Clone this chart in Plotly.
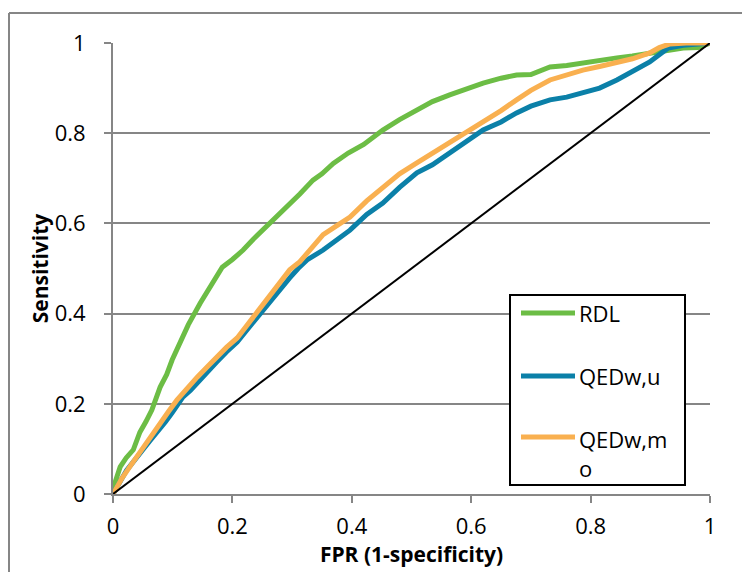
import plotly.graph_objects as go

# ---- data ----
rdl_fpr = [0, .003, .012, .022, .034, .045, .055, .065, .079, .09, .099, .113, .126, .146, .165, .183, .2, .218,
           .235, .251, .27, .291, .313, .335, .35, .369, .394, .42, .452, .48, .509, .535, .564, .59, .62, .65,
           .676, .7, .732, .76, .787, .815, .844, .87, .899, .93, .955, .98, 1]
rdl_sens = [0, .024, .06, .08, .098, .137, .16, .186, .237, .265, .297, .34, .375, .423, .465, .503, .52, .541,
            .565, .585, .61, .636, .665, .696, .71, .733, .756, .775, .807, .83, .851, .87, .885, .898, .911, .922,
            .929, .93, .947, .95, .956, .96, .967, .971, .978, .984, .989, .99, 1]

qu_fpr = [0, .005, .013, .023, .035, .05, .062, .075, .088, .099, .117, .13, .142, .158, .174, .19, .208, .222,
          .235, .25, .263, .28, .296, .31, .325, .352, .375, .397, .425, .452, .48, .509, .535, .564, .59, .62,
          .65, .676, .7, .732, .76, .787, .815, .844, .87, .899, .93, .955, .98, 1]
qu_sens = [0, .01, .03, .053, .075, .098, .118, .137, .16, .18, .215, .23, .248, .27, .293, .315, .337, .36,
           .381, .405, .43, .455, .479, .5, .519, .541, .565, .585, .62, .645, .68, .712, .73, .756, .78, .807,
           .825, .845, .86, .874, .88, .889, .9, .918, .936, .958, .989, .995, .998, 1]

qm_fpr = [0, .005, .015, .028, .04, .05, .065, .079, .093, .107, .124, .141, .158, .174, .19, .208, .222, .235,
          .25, .263, .28, .296, .313, .33, .352, .375, .397, .425, .452, .48, .509, .535, .564, .59, .62, .65,
          .676, .7, .732, .76, .787, .815, .844, .87, .899, .915, .933, .96, 1]
qm_sens = [0, .012, .035, .06, .083, .104, .13, .157, .183, .208, .235, .259, .282, .304, .325, .346, .37, .392,
           .415, .441, .47, .497, .515, .541, .575, .595, .614, .65, .681, .71, .734, .755, .778, .8, .825, .85,
           .874, .895, .918, .93, .94, .948, .956, .965, .978, .99, .998, 1, 1]

diag = [0, 1]

series_names = ["RDL", "QEDw,u", "QEDw,m<br>o"]
colors = ["#6cbd45", "#0b80a8", "#f9b050"]
tick_vals = [0, 0.2, 0.4, 0.6, 0.8, 1]
tick_text = ["0", "0.2", "0.4", "0.6", "0.8", "1"]

FONT = "Open Sans"
OFF = 8  # page body margin
W, H = 750, 572
PX0, PX1, PY1, PY0 = 113, 710, 43, 494  # plot area in page pixels
L, T = PX0 - OFF, PY1 - OFF
PW, PH = PX1 - PX0, PY0 - PY1
R, B = W - L - PW, H - T - PH


def px(x):
    return (x - PX0) / PW


def py(y):
    return (PY0 - y) / PH


fig = go.Figure()
for xs, ys, c in [(rdl_fpr, rdl_sens, colors[0]), (qu_fpr, qu_sens, colors[1]), (qm_fpr, qm_sens, colors[2])]:
    fig.add_trace(go.Scatter(x=xs, y=ys, mode="lines", line=dict(color=c, width=5), showlegend=False,
                             cliponaxis=False))
fig.add_trace(go.Scatter(x=diag, y=diag, mode="lines", line=dict(color="black", width=2), showlegend=False,
                         cliponaxis=False))

axis_common = dict(range=[0, 1], tickvals=tick_vals, ticktext=tick_text, ticks="outside", ticklen=7,
                   tickwidth=2, tickcolor="#868686", showline=True, linecolor="#868686", linewidth=2,
                   tickfont=dict(family=FONT, size=22, color="black"), zeroline=False)

fig.update_xaxes(**axis_common, showgrid=False, ticklabelstandoff=5,
                 title=dict(text="<b>FPR (1-specificity)</b>", font=dict(family=FONT, size=21, color="black"),
                            standoff=7))
fig.update_yaxes(**axis_common, showgrid=True, gridcolor="#868686", gridwidth=2, ticklabelstandoff=14,
                 title=dict(text="<b>Sensitivity</b>", font=dict(family=FONT, size=21, color="black"),
                            standoff=0))

shapes = []
# outer chart border (left & top visible)
shapes.append(dict(type="line", xref="paper", yref="paper", x0=px(9), x1=px(9), y0=py(13), y1=py(600),
                   line=dict(color="#868686", width=2)))
shapes.append(dict(type="line", xref="paper", yref="paper", x0=px(9), x1=px(770), y0=py(13), y1=py(13),
                   line=dict(color="#868686", width=2)))
# legend box
shapes.append(dict(type="rect", xref="paper", yref="paper", x0=px(510), x1=px(685), y0=py(485), y1=py(295),
                   line=dict(color="black", width=2), fillcolor="white", layer="above"))
annotations = []
leg_y = [313, 376, 437]
text_y = [313, 376, 453]
for name, c, ly, ty in zip(series_names, colors, leg_y, text_y):
    shapes.append(dict(type="line", xref="paper", yref="paper", x0=px(521), x1=px(575), y0=py(ly), y1=py(ly),
                       line=dict(color=c, width=5), layer="above"))
    annotations.append(dict(xref="paper", yref="paper", x=px(577), y=py(ty), text=name, showarrow=False,
                            xanchor="left", yanchor="middle", align="left",
                            font=dict(family=FONT, size=22, color="black")))

fig.update_layout(width=W, height=H, margin=dict(l=L, r=R, t=T, b=B), plot_bgcolor="white",
                  paper_bgcolor="white", shapes=shapes, annotations=annotations, showlegend=False)

fig.write_html("out.html")
